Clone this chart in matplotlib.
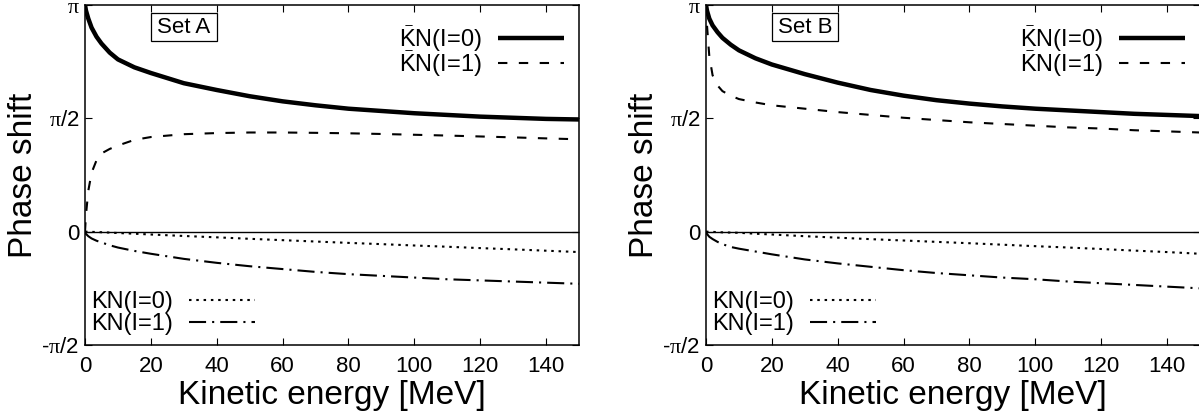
import numpy as np
import matplotlib
matplotlib.use('Agg')
import matplotlib.pyplot as plt
from matplotlib.patches import Rectangle
import matplotlib.transforms as mtransforms

plt.rcParams['font.family'] = ['Liberation Sans', 'DejaVu Sans']
plt.rcParams['mathtext.fontset'] = 'custom'
plt.rcParams['mathtext.rm'] = 'Liberation Serif'
plt.rcParams['mathtext.sf'] = 'Liberation Sans'

#   kinetic energy grid [MeV]
energy = [0, 0.3, 1, 2, 3.5, 5, 7.5, 10, 15, 20, 30, 40, 50, 60, 70, 80, 90, 100,
          110, 120, 130, 140, 150]

#   phase shifts, in units of pi/2
a_kbar_i0 = [2.0, 1.95, 1.88, 1.80, 1.72, 1.66, 1.58, 1.52, 1.45, 1.40, 1.31, 1.25,
             1.195, 1.15, 1.115, 1.085, 1.065, 1.045, 1.03, 1.015, 1.005, 0.995, 0.99]
a_kbar_i1 = [0.0, 0.15, 0.36, 0.52, 0.63, 0.69, 0.73, 0.76, 0.81, 0.835, 0.86, 0.87,
             0.875, 0.875, 0.872, 0.868, 0.862, 0.855, 0.848, 0.84, 0.832, 0.823, 0.815]
a_k_i0 = [0.0, 0.0, -0.001, -0.002, -0.003, -0.005, -0.008, -0.012, -0.018, -0.025,
          -0.038, -0.05, -0.063, -0.075, -0.087, -0.099, -0.11, -0.122, -0.133,
          -0.145, -0.156, -0.168, -0.18]
a_k_i1 = [0.0, -0.02, -0.04, -0.06, -0.08, -0.095, -0.12, -0.14, -0.17, -0.195, -0.24,
          -0.275, -0.305, -0.33, -0.355, -0.375, -0.39, -0.405, -0.42, -0.43, -0.44,
          -0.45, -0.46]

b_kbar_i0 = [2.0, 1.95, 1.88, 1.82, 1.76, 1.71, 1.65, 1.60, 1.53, 1.475, 1.39, 1.315,
             1.25, 1.20, 1.16, 1.13, 1.105, 1.085, 1.07, 1.055, 1.04, 1.03, 1.02]
b_kbar_i1 = [2.0, 1.82, 1.55, 1.38, 1.29, 1.24, 1.20, 1.17, 1.14, 1.115, 1.085, 1.055,
             1.03, 1.005, 0.985, 0.965, 0.95, 0.935, 0.92, 0.91, 0.895, 0.885, 0.875]
b_k_i0 = [0.0, 0.0, -0.001, -0.002, -0.004, -0.006, -0.008, -0.01, -0.018, -0.025,
          -0.04, -0.053, -0.066, -0.078, -0.09, -0.102, -0.115, -0.128, -0.14,
          -0.153, -0.167, -0.18, -0.195]
b_k_i1 = [0.0, -0.02, -0.045, -0.065, -0.09, -0.11, -0.135, -0.15, -0.175, -0.2,
          -0.245, -0.28, -0.31, -0.34, -0.365, -0.385, -0.405, -0.42, -0.44, -0.455,
          -0.47, -0.485, -0.5]

sets = [('Set A', a_kbar_i0, a_kbar_i1, a_k_i0, a_k_i1),
        ('Set B', b_kbar_i0, b_kbar_i1, b_k_i0, b_k_i1)]

labels = [r'$\bar{\mathsf{K}}$N(I=0)', r'$\bar{\mathsf{K}}$N(I=1)',
          'KN(I=0)', 'KN(I=1)']
yticks = [-np.pi / 2, 0, np.pi / 2, np.pi]
yticklabels = [r'-$\mathrm{\pi}$/2', '0', r'$\mathrm{\pi}$/2', r'$\mathrm{\pi}$']
xticks = [0, 20, 40, 60, 80, 100, 120, 140]

fig = plt.figure(figsize=(11.99, 4.19), dpi=100)
lefts = [85 / 1199, 706 / 1199]

for k, (name, kb0, kb1, k0, k1) in enumerate(sets):
    ax = fig.add_axes([lefts[k], 74 / 419, 494 / 1199, 340 / 419])
    e = np.array(energy)
    ax.axhline(0, color='black', lw=1.0)
    l1, = ax.plot(e, np.array(kb0) * np.pi / 2, color='black', lw=3.2,
                  solid_capstyle='butt', solid_joinstyle='round')
    l2, = ax.plot(e, np.array(kb1) * np.pi / 2, color='black', lw=1.5,
                  ls=(0, (4.5, 5.5)))
    l3, = ax.plot(e, np.array(k0) * np.pi / 2, color='black', lw=1.5,
                  ls=(0, (1.2, 2.3)))
    l4, = ax.plot(e, np.array(k1) * np.pi / 2, color='black', lw=1.5,
                  ls=(0, (8.2, 2.9, 1.0, 2.9)))

    ax.set_xlim(0, 150)
    ax.set_ylim(-np.pi / 2, np.pi)
    ax.set_xticks(xticks)
    ax.set_yticks(yticks)
    ax.set_yticklabels(yticklabels)
    ax.tick_params(direction='in', length=5, width=0.8, labelsize=16,
                   top=True, right=True)
    ax.tick_params(axis='x', pad=8)
    ax.tick_params(axis='y', pad=4)
    for sp in ax.spines.values():
        sp.set_linewidth(1.1)
    ax.set_xlabel('Kinetic energy [MeV]', fontsize=24, labelpad=2)
    ax.set_ylabel('Phase shift', fontsize=24, labelpad=2)

    leg1 = ax.legend([l1, l2], labels[:2], loc='upper right',
                     bbox_to_anchor=(0.97, 0.945), frameon=False, fontsize=17,
                     markerfirst=False, handlelength=2.8, handletextpad=0.7,
                     labelspacing=-0.2, borderpad=0, borderaxespad=0)
    ax.add_artist(leg1)
    ax.legend([l3, l4], labels[2:], loc='lower left',
              bbox_to_anchor=(0.012, 0.03), frameon=False, fontsize=17,
              markerfirst=False, handlelength=2.8, handletextpad=0.7,
              labelspacing=0.0, borderpad=0, borderaxespad=0)

    trans = mtransforms.blended_transform_factory(ax.transData, ax.transAxes)
    ax.add_patch(Rectangle((20, 0.894), 20, 0.082, transform=trans, fill=False,
                           lw=0.9, edgecolor='black'))
    ax.text(30, 0.935, name, transform=trans, ha='center', va='center',
            fontsize=16)

fig.savefig('out.png', dpi=100)
